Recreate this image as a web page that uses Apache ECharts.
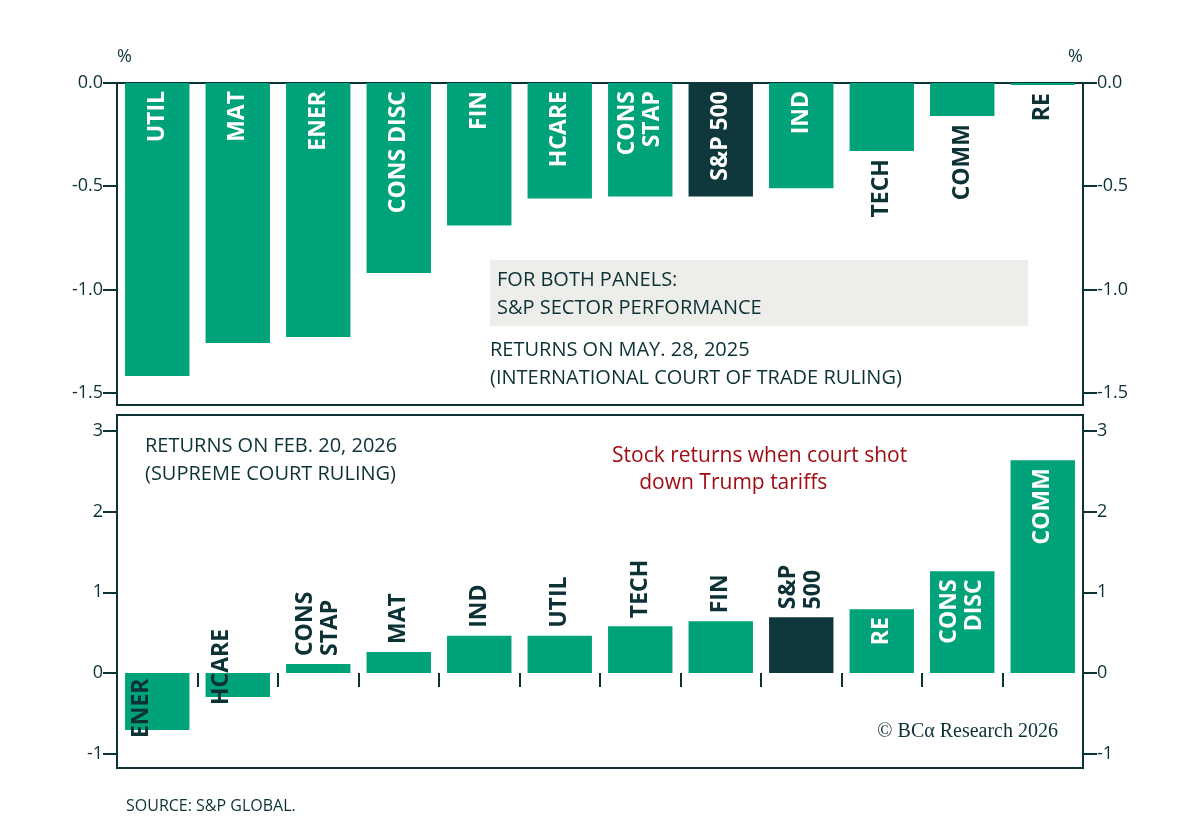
<!DOCTYPE html>
<html><head><meta charset="utf-8">
<script src="https://cdn.jsdelivr.net/npm/echarts@6/dist/echarts.min.js"></script>
<style>html,body{margin:0;background:#fff}#c{width:1200px;height:830px}</style>
</head><body><div id="c"></div>
<script>
const topCats = ['UTIL', 'MAT', 'ENER', 'CONS DISC', 'FIN', 'HCARE', 'CONS\nSTAP', 'S&P 500', 'IND', 'TECH', 'COMM', 'RE']
const topVals = [-1.42, -1.26, -1.23, -0.92, -0.69, -0.56, -0.55, -0.55, -0.51, -0.33, -0.16, -0.01]
const botCats = ['ENER', 'HCARE', 'CONS\nSTAP', 'MAT', 'IND', 'UTIL', 'TECH', 'FIN', 'S&P\n500', 'RE', 'CONS\nDISC', 'COMM']
const botVals = [-0.71, -0.30, 0.11, 0.26, 0.46, 0.46, 0.58, 0.64, 0.69, 0.79, 1.26, 2.64]
const topTicks = [0, -0.5, -1.0, -1.5]
const botTicks = [-1, 0, 1, 2, 3]

const GREEN = '#00a27a'
const DARK = '#0e383c'
const TXT = '#0d3236'
const FONT = 'Open Sans'

function lbl (inside, pos, align) {
  return { show: true, position: pos, rotate: 90, align: align, verticalAlign: 'middle', distance: 8,
    color: inside ? '#fff' : TXT, fontSize: 23, fontWeight: 'bold', fontFamily: FONT, lineHeight: 25 }
}
const topData = topVals.map((v, i) => {
  const outside = ['TECH', 'COMM', 'RE'].includes(topCats[i])
  return { value: v,
    itemStyle: { color: topCats[i] === 'S&P 500' ? DARK : GREEN },
    label: Object.assign(lbl(!outside, outside ? 'bottom' : 'insideTop', 'right'), { formatter: topCats[i] }) }
})
const botData = botVals.map((v, i) => {
  const inside = ['RE', 'CONS\nDISC', 'COMM'].includes(botCats[i])
  const neg = v < 0
  let l
  if (inside) l = lbl(true, 'insideTop', 'right')
  else if (neg) l = Object.assign(lbl(false, 'bottom', 'left'), { offset: [0, -16] })
  else l = lbl(false, 'top', 'left')
  return { value: v,
    itemStyle: { color: botCats[i] === 'S&P\n500' ? DARK : GREEN },
    label: Object.assign(l, { formatter: botCats[i] }) }
})

const axisLbl = { color: TXT, fontSize: 18, fontFamily: FONT, margin: 14 }
function yax (grid, pos, min, max, ticks, fmt) {
  return { type: 'value', gridIndex: grid, position: pos, min: min, max: max,
    axisLine: { show: false }, splitLine: { show: false },
    axisTick: { show: true, length: 14, customValues: ticks, lineStyle: { color: TXT, width: 2 } },
    axisLabel: Object.assign({ formatter: fmt, customValues: ticks }, axisLbl) }
}
const fmtTop = v => v.toFixed(1)
const fmtBot = v => String(v)

const option = {
  animation: false,
  grid: [
    { left: 117, right: 117, top: 83, height: 322, show: true, borderColor: TXT, borderWidth: 2 },
    { left: 117, right: 117, top: 415, height: 353, show: true, borderColor: TXT, borderWidth: 2 }
  ],
  xAxis: [
    { type: 'category', gridIndex: 0, data: topCats, axisLine: { show: false }, axisTick: { show: false }, axisLabel: { show: false } },
    { type: 'category', gridIndex: 1, data: botCats, axisLine: { show: false }, axisLabel: { show: false },
      axisTick: { show: true, length: 14, inside: false, lineStyle: { color: TXT, width: 2 } } }
  ],
  yAxis: [
    yax(0, 'left', -1.56, 0, topTicks, fmtTop), yax(0, 'right', -1.56, 0, topTicks, fmtTop),
    yax(1, 'left', -1.18, 3.2, botTicks, fmtBot), yax(1, 'right', -1.18, 3.2, botTicks, fmtBot)
  ],
  series: [
    { type: 'bar', xAxisIndex: 0, yAxisIndex: 0, barWidth: '80%', data: topData },
    { type: 'bar', xAxisIndex: 1, yAxisIndex: 2, barWidth: '80%', data: botData }
  ],
  graphic: [
    { type: 'text', left: 117, top: 48, style: { text: '%', fill: TXT, font: '18px Open Sans' } },
    { type: 'text', left: 1068, top: 48, style: { text: '%', fill: TXT, font: '18px Open Sans' } },
    { type: 'rect', shape: { x: 490, y: 260, width: 538, height: 66 }, style: { fill: '#ededea' } },
    { type: 'text', left: 497, top: 266, style: { text: 'FOR BOTH PANELS:\nS&P SECTOR PERFORMANCE', fill: TXT, font: '20px Open Sans', lineHeight: 28 } },
    { type: 'text', left: 490, top: 336, style: { text: 'RETURNS ON MAY. 28, 2025\n(INTERNATIONAL COURT OF TRADE RULING)', fill: TXT, font: '20px Open Sans', lineHeight: 28 } },
    { type: 'text', left: 145, top: 432, style: { text: 'RETURNS ON FEB. 20, 2026\n(SUPREME COURT RULING)', fill: TXT, font: '20px Open Sans', lineHeight: 28 } },
    { type: 'text', left: 612, top: 443, style: { text: 'Stock returns when court shot\n     down Trump tariffs', fill: '#a00d12', font: '21px Open Sans', lineHeight: 27 } },
    { type: 'text', right: 142, top: 722, style: { text: '© BCα Research 2026', fill: TXT, font: '20px Liberation Serif' } },
    { type: 'text', left: 126, top: 798, style: { text: 'SOURCE: S&P GLOBAL.', fill: TXT, font: '16px Open Sans' } }
  ]
}
echarts.init(document.getElementById('c')).setOption(option)
</script></body></html>
